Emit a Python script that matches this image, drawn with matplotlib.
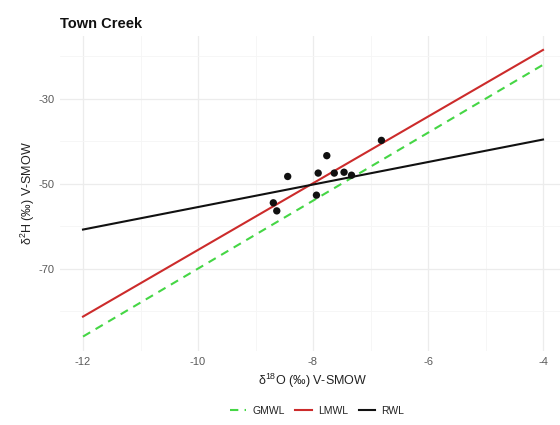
import numpy as np
import matplotlib
matplotlib.use("Agg")
import matplotlib.pyplot as plt
from matplotlib.lines import Line2D

plt.rcParams["font.family"] = ["Liberation Sans", "DejaVu Sans"]
plt.rcParams["mathtext.fontset"] = "custom"
plt.rcParams["mathtext.rm"] = "Liberation Sans"
plt.rcParams["mathtext.it"] = "Liberation Sans"
plt.rcParams["mathtext.default"] = "regular"
plt.rcParams["axes.unicode_minus"] = False

# Town Creek samples: d18O and d2H (permil, V-SMOW)
d18o = [-6.81, -7.76, -8.44, -7.91, -7.63, -7.46, -7.33, -7.94, -8.69, -8.63]
d2h = [-39.8, -43.4, -48.3, -47.5, -47.5, -47.3, -48.0, -52.7, -54.5, -56.4]

# water lines: name, slope, intercept, colour, style
line_names = ["GMWL", "LMWL", "RWL"]
line_slopes = [8.0, 7.85, 2.65]
line_intercepts = [10.0, 12.9, -29.0]
line_colors = ["#45d645", "#cc2b2b", "#111111"]
line_styles = [(0, (4, 3)), "-", "-"]

x_range = np.array([-12.0, -4.0])

fig = plt.figure(figsize=(5.6, 4.25), dpi=100)
ax = fig.add_axes([60 / 560, 74 / 425, 506 / 560, 315.5 / 425])

for name, m, b, c, ls in zip(line_names, line_slopes, line_intercepts,
                             line_colors, line_styles):
    ax.plot(x_range, m * x_range + b, color=c, linestyle=ls, lw=1.5,
            zorder=2)

ax.scatter(d18o, d2h, s=28, color="#111111", zorder=3, edgecolors="none")

ax.set_xlim(-12.4, -3.6)
ax.set_ylim(-89.4, -15.1)
ax.set_xticks([-12, -10, -8, -6, -4])
ax.set_xticks([-11, -9, -7, -5], minor=True)
ax.set_yticks([-70, -50, -30])
ax.set_yticks([-80, -60, -40, -20], minor=True)

ax.grid(which="major", color="#ececec", lw=0.9)
ax.grid(which="minor", color="#f5f5f5", lw=0.6)
ax.set_axisbelow(True)
for sp in ax.spines.values():
    sp.set_visible(False)
ax.tick_params(which="both", length=0, labelsize=8, labelcolor="#5a5a5a",
               pad=4)

ax.set_xlabel(r"$\delta^{18}$O (‰) V-SMOW", fontsize=9, color="#222222",
              labelpad=4)
ax.set_ylabel(r"$\delta^{2}$H (‰) V-SMOW", fontsize=9, color="#222222",
              labelpad=1)
fig.text(60 / 560, 1 - 24 / 425, "Town Creek", fontsize=10.5,
         fontweight="bold", va="center", ha="left", color="#111111")

handles = [Line2D([], [], color=c, linestyle=ls, lw=1.5)
           for c, ls in zip(line_colors, line_styles)]
fig.legend(handles, line_names, loc="center", ncol=3,
           bbox_to_anchor=(317 / 560, 1 - 411 / 425), frameon=False,
           fontsize=7.5, handlelength=1.6, columnspacing=1.0,
           handletextpad=0.6, labelcolor="#222222")

fig.savefig("out.png", dpi=100)
